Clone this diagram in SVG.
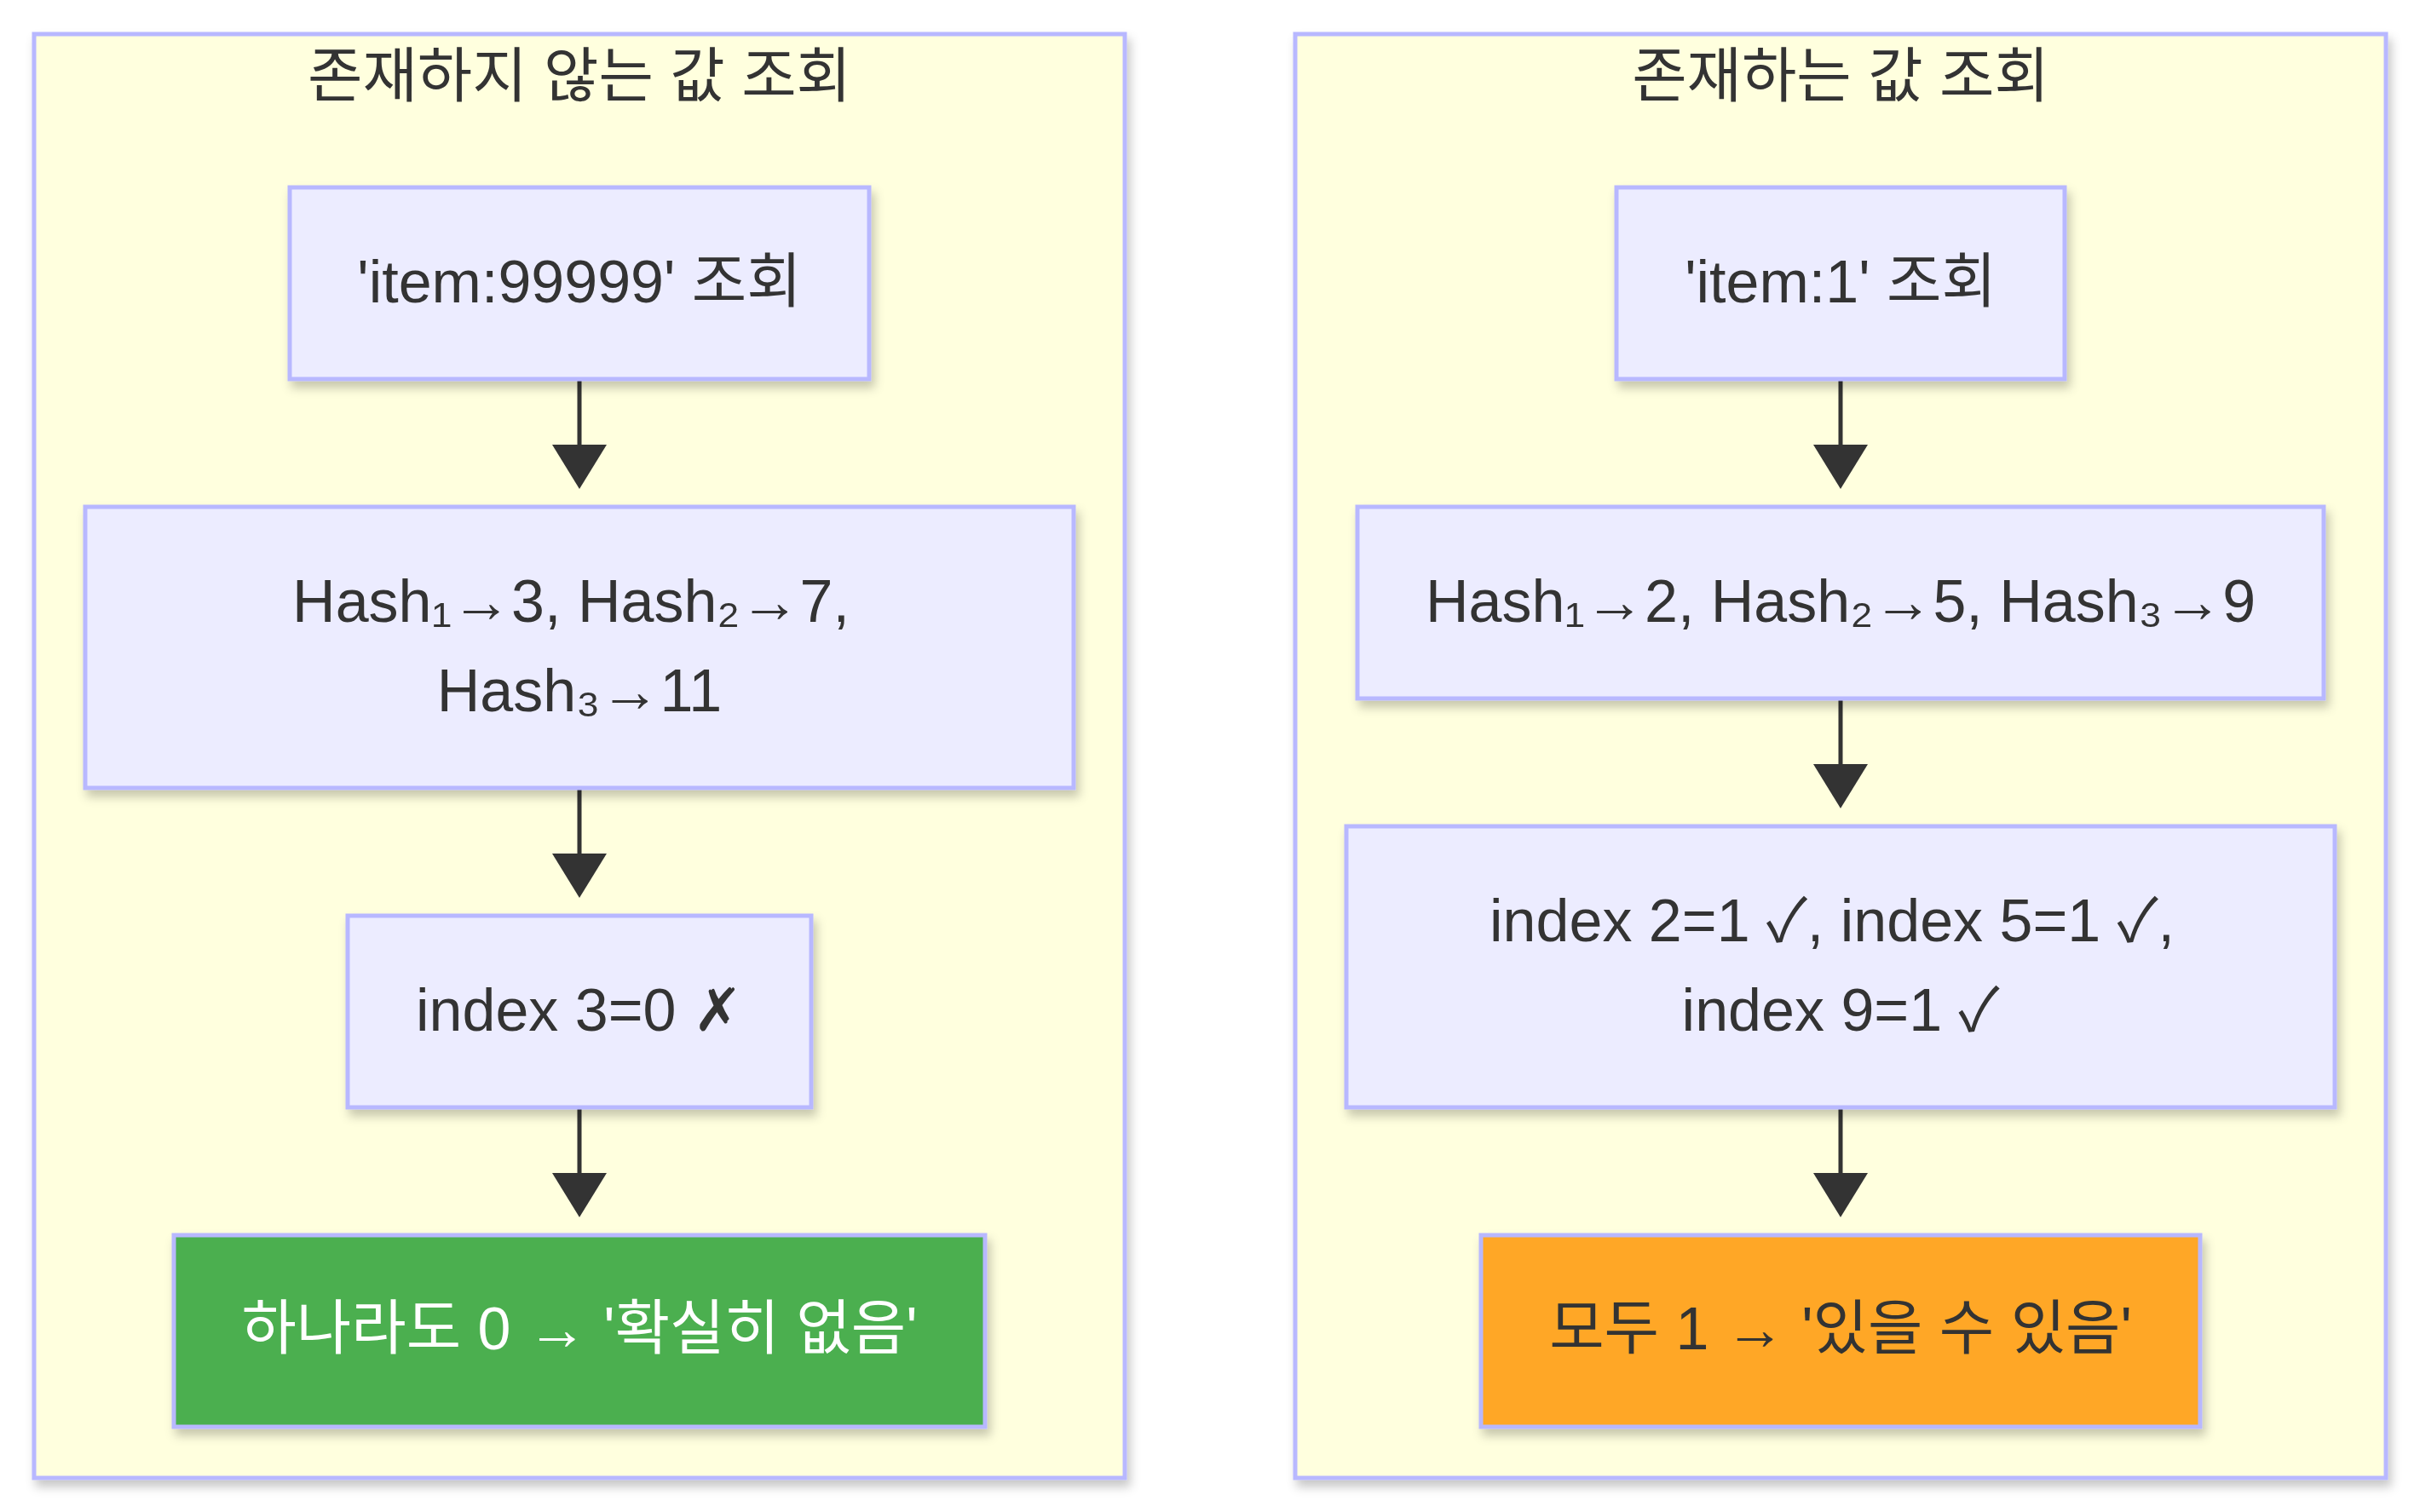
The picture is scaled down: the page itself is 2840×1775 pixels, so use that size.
<svg xmlns="http://www.w3.org/2000/svg" width="2840" height="1775" viewBox="0 0 2840 1775">
  <defs>
    <style>
      .cluster { fill: #ffffde; stroke: #b8b8ff; stroke-width: 5; }
      .node { fill: #ececff; stroke: #b8b8ff; stroke-width: 5; }
      .ok { fill: #4caf50; stroke: #b8b8ff; stroke-width: 5; }
      .maybe { fill: #ffa726; stroke: #b8b8ff; stroke-width: 5; }
      .lbl { font-family: "Liberation Sans", Arial, "Noto Sans CJK KR", sans-serif; font-size: 70px; fill: #333333; text-anchor: middle; }
      .white { fill: #ffffff; }
      .edge { stroke: #333333; stroke-width: 5; fill: none; }
    </style>
    <filter id="shadow" x="-10%" y="-10%" width="125%" height="130%">
      <feDropShadow dx="4" dy="8" stdDeviation="6" flood-color="#000000" flood-opacity="0.22"/>
    </filter>
    <marker id="arrow" markerUnits="userSpaceOnUse" markerWidth="52" markerHeight="64" viewBox="0 0 52 64" refX="0" refY="32" orient="auto">
      <path d="M0,0 L52,32 L0,64 z" fill="#333333"/>
    </marker>
  </defs>
  <rect width="2840" height="1775" fill="#ffffff"/>

  <g id="cluster-absent">
    <rect class="cluster" x="40" y="40" width="1280" height="1695" filter="url(#shadow)"/>
    <text class="lbl" x="680" y="114">존재하지 않는 값 조회</text>
  </g>
  <g id="cluster-present">
    <rect class="cluster" x="1520" y="40" width="1280" height="1695" filter="url(#shadow)"/>
    <text class="lbl" x="2160" y="114">존재하는 값 조회</text>
  </g>

  <g id="connectors">
    <line class="edge" x1="680" y1="445" x2="680" y2="522" marker-end="url(#arrow)"/>
    <line class="edge" x1="680" y1="925" x2="680" y2="1002" marker-end="url(#arrow)"/>
    <line class="edge" x1="680" y1="1300" x2="680" y2="1377" marker-end="url(#arrow)"/>
    <line class="edge" x1="2160" y1="445" x2="2160" y2="522" marker-end="url(#arrow)"/>
    <line class="edge" x1="2160" y1="820" x2="2160" y2="897" marker-end="url(#arrow)"/>
    <line class="edge" x1="2160" y1="1300" x2="2160" y2="1377" marker-end="url(#arrow)"/>
  </g>

  <g id="A1">
    <rect class="node" x="340" y="220" width="680" height="225" filter="url(#shadow)"/>
    <text class="lbl" x="680" y="355">'item:99999' 조회</text>
  </g>
  <g id="A2">
    <rect class="node" x="100" y="595" width="1160" height="330" filter="url(#shadow)"/>
    <text class="lbl" x="670" y="730">Hash₁→3, Hash₂→7,</text>
    <text class="lbl" x="680" y="835">Hash₃→11</text>
  </g>
  <g id="A3">
    <rect class="node" x="408" y="1075" width="544" height="225" filter="url(#shadow)"/>
    <text class="lbl" x="680" y="1210">index 3=0 ✗</text>
  </g>
  <g id="A4">
    <rect class="ok" x="204" y="1450" width="952" height="225" filter="url(#shadow)"/>
    <text class="lbl white" x="680" y="1584">하나라도 0 → '확실히 없음'</text>
  </g>

  <g id="B1">
    <rect class="node" x="1897" y="220" width="526" height="225" filter="url(#shadow)"/>
    <text class="lbl" x="2160" y="355">'item:1' 조회</text>
  </g>
  <g id="B2">
    <rect class="node" x="1593" y="595" width="1134" height="225" filter="url(#shadow)"/>
    <text class="lbl" x="2160" y="730">Hash₁→2, Hash₂→5, Hash₃→9</text>
  </g>
  <g id="B3">
    <rect class="node" x="1580" y="970" width="1160" height="330" filter="url(#shadow)"/>
    <text class="lbl" x="2150" y="1105">index 2=1 ✓, index 5=1 ✓,</text>
    <text class="lbl" x="2160" y="1210">index 9=1 ✓</text>
  </g>
  <g id="B4">
    <rect class="maybe" x="1738" y="1450" width="844" height="225" filter="url(#shadow)"/>
    <text class="lbl" x="2160" y="1584">모두 1 → '있을 수 있음'</text>
  </g>
</svg>
